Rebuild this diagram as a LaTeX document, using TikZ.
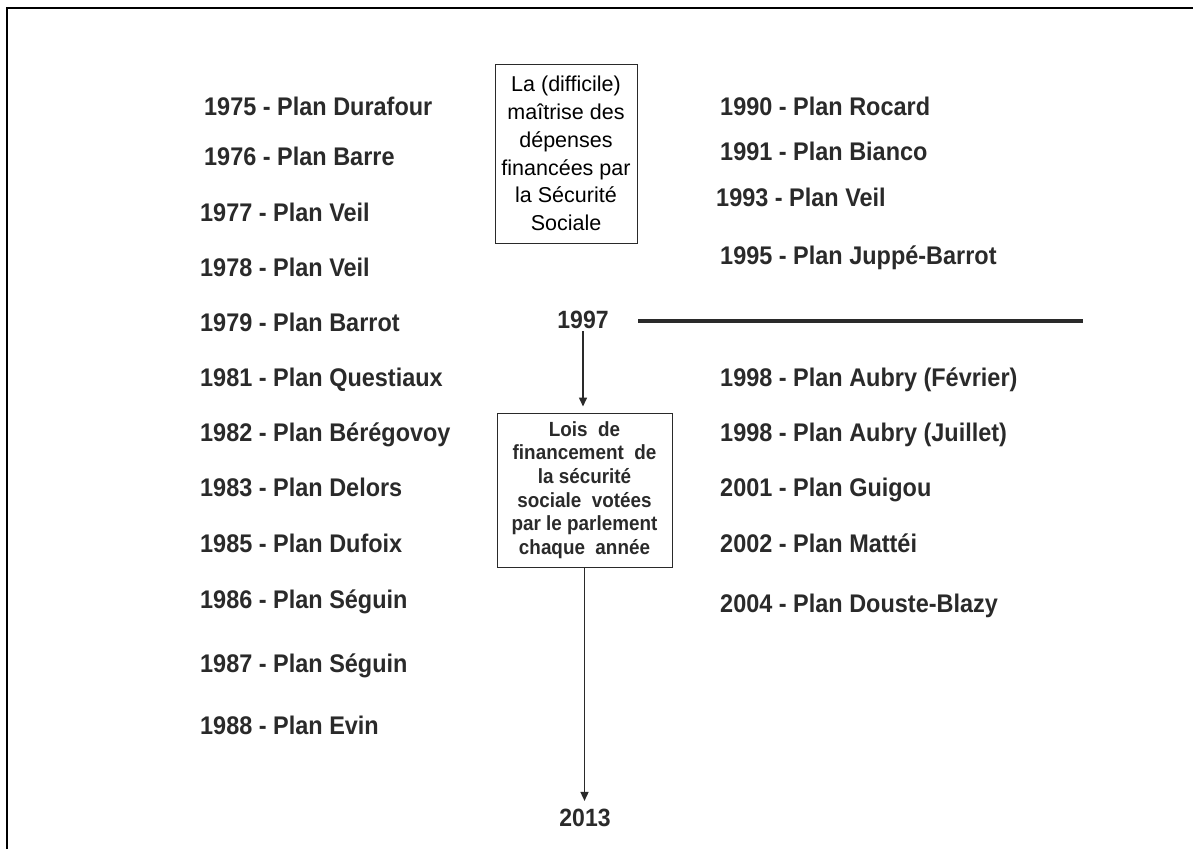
\documentclass[tikz,border=0pt]{standalone}
\usepackage{fontspec}
\setmainfont{Liberation Sans}
\newfontfamily\condsans[FakeStretch=0.92]{Liberation Sans}
\usetikzlibrary{arrows.meta}
\definecolor{ink}{HTML}{2A2A2A}
\begin{document}
\begin{tikzpicture}[x=1pt,y=-1pt,
  item/.style={anchor=base west, inner sep=0pt, text=ink, font=\condsans\fontsize{25.5}{29}\selectfont\bfseries},
  yearlbl/.style={inner sep=2pt, text=ink, font=\condsans\fontsize{25}{29}\selectfont\bfseries},
  topbox/.style={draw=ink, line width=1pt, minimum width=142pt, minimum height=179pt, align=center, inner sep=0pt, text=black, font=\fontsize{21.5}{27.8}\selectfont},
  loisbox/.style={draw=ink, line width=1pt, minimum width=175pt, minimum height=154pt, align=center, inner sep=0pt, text=ink, font=\condsans\fontsize{20.5}{23.6}\selectfont\bfseries},
  conn/.style={draw=ink, line width=1.5pt, -{Triangle[width=8pt,length=9pt]}},
  bar/.style={draw=ink, line width=4.5pt}]
\useasboundingbox (0,0) rectangle (1193,849);
\draw[line width=2pt] (7,849) -- (7,8) -- (1193,8);

% left column
\node[item] (p75) at (204,115) {1975 - Plan Durafour};
\node[item] (p76) at (204,165) {1976 - Plan Barre};
\node[item] (p77) at (200,221) {1977 - Plan Veil};
\node[item] (p78) at (200,276) {1978 - Plan Veil};
\node[item] (p79) at (200,331) {1979 - Plan Barrot};
\node[item] (p81) at (200,386) {1981 - Plan Questiaux};
\node[item] (p82) at (200,441) {1982 - Plan Bérégovoy};
\node[item] (p83) at (200,496) {1983 - Plan Delors};
\node[item] (p85) at (200,552) {1985 - Plan Dufoix};
\node[item] (p86) at (200,608) {1986 - Plan Séguin};
\node[item] (p87) at (200,672) {1987 - Plan Séguin};
\node[item] (p88) at (200,734) {1988 - Plan Evin};

% right column
\node[item] (p90) at (720,115) {1990 - Plan Rocard};
\node[item] (p91) at (720,160) {1991 - Plan Bianco};
\node[item] (p93) at (716,206) {1993 - Plan Veil};
\node[item] (p95) at (720,264) {1995 - Plan Juppé-Barrot};
\node[item] (p98a) at (720,386) {1998 - Plan Aubry (Février)};
\node[item] (p98b) at (720,441) {1998 - Plan Aubry (Juillet)};
\node[item] (p01) at (720,496) {2001 - Plan Guigou};
\node[item] (p02) at (720,552) {2002 - Plan Mattéi};
\node[item] (p04) at (720,612) {2004 - Plan Douste-Blazy};

% centre
\node[topbox] (maitrise) at (566,153.5) {La (difficile)\\maîtrise des\\dépenses\\financées par\\la Sécurité\\Sociale};
\node[yearlbl] (y97) at (583,320) {1997};
\coordinate (hl1) at (638,321);
\coordinate (hl2) at (1083,321);
\draw[bar] (hl1) -- (hl2);
\node[loisbox] (lois) at (584.5,490) {Lois\ \ de\\financement\ \ de\\la sécurité\\sociale\ \ votées\\par le parlement\\chaque\ \ année};
\node[yearlbl] (y13) at (585,818) {2013};
\draw[conn, shorten >=6pt] (y97.south) -- (y97.south |- lois.north);
\draw[conn, shorten >=6pt] (lois.south) -- (lois.south |- y13.north);
\end{tikzpicture}
\end{document}
